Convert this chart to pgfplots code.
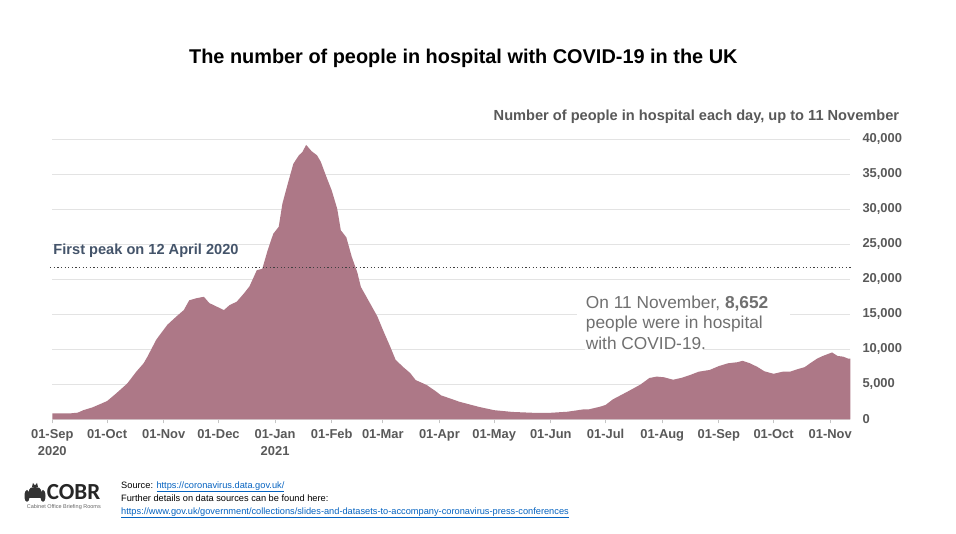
\documentclass[border=0pt]{standalone}
\usepackage{fontspec}
\setmainfont{Liberation Sans}
\newfontfamily\carlito{Carlito}
\usepackage{pgfplots}
\pgfplotsset{compat=1.18}
\definecolor{areac}{HTML}{AD7887}
\definecolor{txtgray}{HTML}{595959}
\definecolor{peakc}{HTML}{44546A}
\definecolor{annot}{HTML}{707070}
\definecolor{gridc}{HTML}{E3E3E3}
\definecolor{linkc}{HTML}{0563C1}
\begin{document}
\begin{tikzpicture}[x=1bp,y=1bp]
\fill[white] (0,0) rectangle (956,534);
\begin{axis}[
  at={(52.3bp,114.7bp)}, anchor=south west,
  scale only axis, width=798bp, height=280bp,
  xmin=0, xmax=437, ymin=0, ymax=40000,
  clip=false,
  axis x line*=bottom, axis y line*=right,
  x axis line style={draw=gridc, line width=0.8bp, -},
  y axis line style={draw=none},
  ymajorgrids, grid style={draw=gridc, line width=0.8bp},
  ytick={0,5000,...,40000},
  xtick={0,30,61,91,122,153,181,212,242,273,303,334,365,395,426},
  xticklabels={{01-Sep\\2020},01-Oct,01-Nov,01-Dec,{01-Jan\\2021},01-Feb,01-Mar,01-Apr,01-May,01-Jun,01-Jul,01-Aug,01-Sep,01-Oct,01-Nov},
  xticklabel style={align=center, inner sep=0pt, yshift=-6bp, font=\fontsize{12.9bp}{16.7bp}\selectfont\bfseries, text=txtgray},
  yticklabel style={anchor=west, inner sep=0pt, xshift=8bp, font=\fontsize{12.9bp}{15bp}\selectfont\bfseries, text=txtgray},
  tick align=outside,
  x tick style={draw=gridc!70!gray, line width=0.8bp}, major tick length=4bp,
  y tick style={draw=none},
  scaled y ticks=false,
  /pgf/number format/.cd, 1000 sep={,}, assume math mode=true,
]
\addplot[fill=areac, draw=none] coordinates {
(0,850) (5,860) (10,850) (14,950) (17,1300) (22,1700) (26,2150) (30,2600)
(35,3700) (41,5100) (46,6800) (50,8000) (52,8900) (57,11400) (61,12800)
(63,13500) (68,14700) (72,15600) (75,17000) (79,17300) (83,17500) (86,16600)
(90,16100) (94,15600) (97,16300) (101,16800) (105,18000) (108,19000)
(112,21300) (115,21500) (118,24200) (121,26500) (124,27500) (126,30800)
(129,33700) (132,36500) (135,37700) (137,38200) (139,39200) (142,38300)
(145,37700) (147,36800) (150,34700) (153,32700) (156,30100) (158,27000)
(161,26000) (164,23200) (167,21000) (169,18900) (172,17500) (175,16100)
(178,14700) (181,12800) (185,10400) (188,8500) (192,7500) (196,6600)
(199,5600) (205,4900) (210,4000) (213,3400) (217,3050) (223,2500)
(231,1950) (234,1750) (242,1300) (252,1050) (263,930) (273,930)
(282,1080) (291,1420) (294,1430) (300,1800) (303,2050) (307,2850)
(315,3950) (322,4950) (327,5900) (331,6100) (335,6000) (340,5650)
(345,5950) (349,6300) (354,6800) (360,7050) (365,7600) (370,8000)
(375,8150) (378,8350) (382,8000) (386,7500) (390,6850) (395,6500)
(400,6800) (404,6800) (408,7150) (412,7450) (415,8000) (419,8700)
(422,9050) (427,9550) (430,9050) (433,8950) (436,8652) (437,8652)
} \closedcycle;
\addplot[draw=black!75, line width=1.2bp, dash pattern=on 1.2bp off 2.4bp] coordinates {(-1.2,21683) (437.5,21683)};
\end{axis}
% white background behind the annotation
\fill[white] (577,197) rectangle (790,244);
\fill[white] (585,183) rectangle (703,197);
\node[anchor=base west, align=left, inner sep=0pt, font=\fontsize{17.3bp}{20.6bp}\selectfont, text=annot] at (585.7,184.7)
  {On 11 November, \textbf{8,652}\\people were in hospital\\with COVID-19.};
\node[anchor=base west, inner sep=0pt, font=\fontsize{14.6bp}{17bp}\selectfont\bfseries, text=peakc] at (53.3,279) {First peak on 12 April 2020};
\node[anchor=base, inner sep=0pt, font=\fontsize{19.9bp}{24bp}\selectfont\bfseries] at (463.3,470.5) {The number of people in hospital with COVID-19 in the UK};
\node[anchor=base east, inner sep=0pt, font=\fontsize{14.6bp}{17bp}\selectfont\bfseries, text=txtgray] at (899.3,413.3) {Number of people in hospital each day, up to 11 November};
% logo
\fill[black!80] (29,36) -- (41,36) -- (41,44) .. controls (41,48) and (29,48) .. (29,44) -- cycle;
\fill[black!80] (27,38) ellipse (2.5 and 6);
\fill[black!80] (43,38) ellipse (2.5 and 6);
\fill[black!80] (32,47) -- (33,51) -- (35,48.5) -- (37,51) -- (38,47) -- cycle;
\node[anchor=base west, inner sep=0pt, font=\carlito\bfseries\fontsize{23bp}{23bp}\selectfont, text=black!85] at (46.7,34) {COBR};
\node[anchor=base west, inner sep=0pt, font=\fontsize{5.5bp}{6bp}\selectfont, text=black!60] at (26.7,25) {Cabinet Office Briefing Rooms};
% source
\node[anchor=base west, inner sep=0pt, font=\fontsize{9.25bp}{11bp}\selectfont] at (121,45.7) {Source: \textcolor{linkc}{\underline{https://coronavirus.data.gov.uk/}}};
\node[anchor=base west, inner sep=0pt, font=\fontsize{9.25bp}{11bp}\selectfont] at (121,32.3) {Further details on data sources can be found here:};
\node[anchor=base west, inner sep=0pt, font=\fontsize{9.25bp}{11bp}\selectfont, text=linkc] at (121,19.7) {\underline{https://www.gov.uk/government/collections/slides-and-datasets-to-accompany-coronavirus-press-conferences}};
\end{tikzpicture}
\end{document}
